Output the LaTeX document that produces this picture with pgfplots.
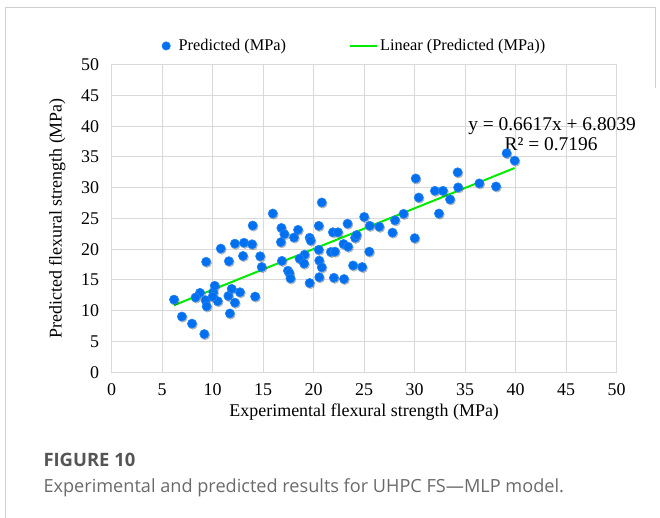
\documentclass[border=0pt]{standalone}
\usepackage{fontspec}
\setmainfont{Liberation Serif}
\newfontfamily\capfont{Open Sans}
\usepackage{pgfplots}
\usepackage{pgfplotstable}
\pgfplotsset{compat=1.18}
\definecolor{gridgray}{HTML}{D9D9D9}
\definecolor{ptblue}{RGB}{0,112,240}
\definecolor{trendgreen}{RGB}{0,235,0}
\definecolor{capgray}{HTML}{555555}
\definecolor{captext}{HTML}{6A6A6A}
\definecolor{framegray}{HTML}{CFCFCF}

\pgfplotsset{
  dotlegend/.style={legend image code/.code={\draw[##1, mark size=4.2bp] plot coordinates {(0bp,0bp)}; \path (10.2bp,0bp);}},
  linelegend/.style={legend image code/.code={\draw[##1] (0bp,0bp) -- (27bp,0bp);}},
}

\pgfplotstableread{
x y
6.17 11.8
6.95 9.05
7.95 7.9
9.17 6.2
8.74 12.9
8.3 12.15
9.3 11.7
9.4 10.7
10.06 13.0
10.2 14.05
10.5 11.55
10.0 12.3
11.55 12.4
11.88 13.55
12.7 13.0
12.2 11.3
11.7 9.55
14.2 12.3
9.35 17.95
11.6 18.05
10.8 20.1
12.2 20.9
13.1 21.05
13.9 20.8
13.96 23.85
13.0 18.9
14.7 18.85
14.85 17.1
15.95 25.8
16.8 23.45
17.1 22.45
18.45 23.15
18.05 21.9
16.75 21.15
19.6 21.85
19.7 21.4
20.5 23.8
20.8 27.6
21.9 22.75
22.4 22.75
23.35 24.15
25.0 25.25
25.55 23.8
26.5 23.65
27.8 22.7
28.05 24.7
28.9 25.75
22.95 20.85
23.4 20.4
24.1 21.85
24.25 22.3
20.5 19.9
21.7 19.55
22.1 19.6
25.5 19.6
19.1 19.1
18.6 18.45
19.05 17.65
16.85 18.1
20.55 18.15
20.8 17.05
23.9 17.35
24.8 17.1
17.45 16.5
17.6 16.1
17.7 15.25
19.6 14.5
20.55 15.45
22.0 15.35
23.0 15.15
39.1 35.6
39.9 34.4
34.25 32.5
30.1 31.5
36.4 30.7
38.05 30.2
34.3 30.05
32.0 29.5
32.8 29.5
33.5 28.1
30.4 28.4
32.4 25.8
30.0 21.8
}\ptdata

\begin{document}
\begin{tikzpicture}
\path[use as bounding box] (0,0) rectangle (660bp,518bp);
\draw[framegray, line width=1bp] (5bp,0bp) -- (5bp,510bp) -- (655bp,510bp) -- (655bp,430bp);
\begin{axis}[
  at={(111.7bp,145.8bp)}, anchor=south west,
  scale only axis, width=505bp, height=307.5bp,
  xmin=0, xmax=50, ymin=0, ymax=50,
  clip=false,
  xtick={0,5,...,50}, ytick={0,5,...,50},
  grid=major, major grid style={gridgray, line width=1bp},
  axis line style={gridgray, line width=1bp},
  major tick length=0pt,
  /pgf/number format/assume math mode=true,
  tick label style={font=\fontsize{18}{20}\selectfont, text=black},
  xticklabel style={yshift=-8bp},
  yticklabel style={xshift=-9bp},
  label style={font=\fontsize{18}{21}\selectfont},
  xlabel={Experimental flexural strength (MPa)},
  ylabel={Predicted flexural strength (MPa)},
  xlabel style={at={(axis description cs:0.5,-0.130)}, anchor=center},
  ylabel style={at={(axis description cs:-0.108,0.5)}, anchor=center},
  legend columns=2,
  legend style={draw=none, fill=none, font=\fontsize{16.4}{19}\selectfont,
    at={(axis description cs:0.481,1.061)}, anchor=center, inner sep=0pt,
    /tikz/every even column/.append style={column sep=61bp}},
  legend cell align=left,
]
\addplot[only marks, mark=*, mark size=4.6bp, forget plot,
  mark options={draw=none, fill=black, opacity=0.22, xshift=0.9bp, yshift=-1.2bp}]
  table[x=x,y=y]{\ptdata};
\addplot[only marks, mark=*, mark size=4.6bp, dotlegend,
  mark options={draw=ptblue!85!white, line width=0.6bp, fill=ptblue}]
  table[x=x,y=y]{\ptdata};
\addlegendentry{Predicted (MPa)}
\addplot[trendgreen, line width=2bp, linelegend]
  coordinates {(6.17,10.886) (39.9,33.206)};
\addlegendentry{Linear (Predicted (MPa))}
\node[font=\fontsize{19.5}{22}\selectfont, anchor=center] at (axis cs:43.6,40.0) {y = 0.6617x + 6.8039};
\node[font=\fontsize{19.5}{22}\selectfont, anchor=center] at (axis cs:43.5,37.1) {R² = 0.7196};
\end{axis}
\node[anchor=base west, font=\capfont\bfseries\fontsize{18.5}{22}\selectfont, text=capgray] at (40bp,51bp) {FIGURE 10};
\node[anchor=base west, font=\capfont\fontsize{18.2}{21}\selectfont, text=captext] at (40bp,26bp) {Experimental and predicted results for UHPC FS—MLP model.};
\end{tikzpicture}
\end{document}
